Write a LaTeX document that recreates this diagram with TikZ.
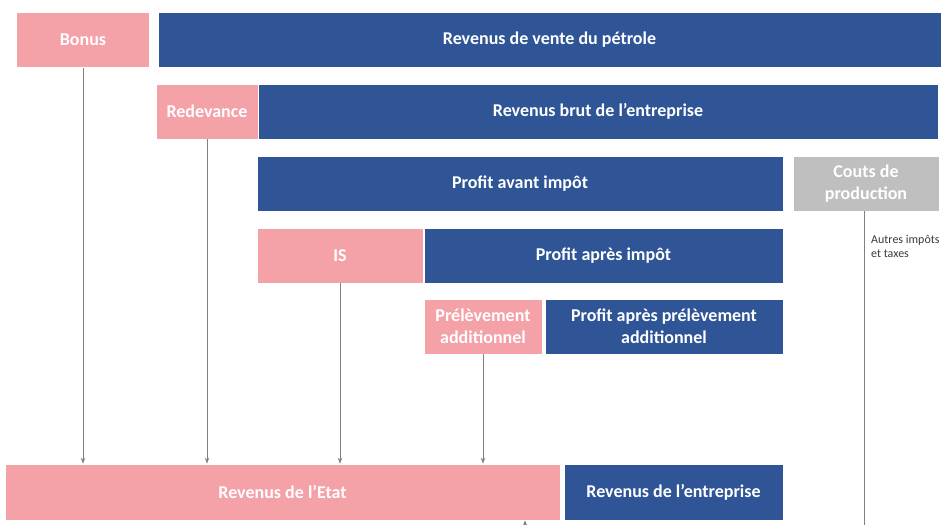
\documentclass[tikz,border=0pt]{standalone}
\usepackage{fontspec}
\setmainfont{Carlito}
\usetikzlibrary{arrows.meta}
\definecolor{pinkc}{HTML}{F4A1A8}
\definecolor{bluec}{HTML}{2F5597}
\definecolor{grayc}{HTML}{BFBFBF}
\definecolor{linec}{HTML}{808080}
\definecolor{txtc}{HTML}{3A3A3A}
\begin{document}
\begin{tikzpicture}[x=1pt,y=-1pt,
  box/.style={draw=white, line width=0.6pt, text=white, font=\fontsize{18}{22}\selectfont\bfseries, align=center, inner sep=0pt, minimum height=55pt},
  pinkbox/.style={box, fill=pinkc},
  bluebox/.style={box, fill=bluec},
  graybox/.style={box, fill=grayc},
  conn/.style={draw=linec, line width=0.9pt, -{Stealth[length=6pt,width=4.5pt]}},
  plainline/.style={draw=linec, line width=0.9pt}]
\clip (0,0) rectangle (941,524);
\fill[white] (0,0) rectangle (941,524);
% row 1
\node[pinkbox, minimum width=133pt] (bonus) at (83,40) {Bonus};
\node[bluebox, minimum width=783pt] (vente) at (549.5,40) {Revenus de vente du pétrole};
% row 2
\node[pinkbox, minimum width=102pt] (redev) at (207,111.5) {Redevance};
\node[bluebox, minimum width=680pt] (brut) at (598,111.5) {Revenus brut de l’entreprise};
% row 3
\node[bluebox, minimum width=526pt] (pai) at (520,183.5) {Profit avant impôt};
\node[graybox, minimum width=146pt] (couts) at (866,183.5) {Couts de\\production};
% row 4
\node[pinkbox, minimum width=166pt] (is) at (340,255.5) {IS};
\node[bluebox, minimum width=359pt] (papi) at (603.5,255.5) {Profit après impôt};
% row 5
\node[pinkbox, minimum width=118pt] (prel) at (483,326.5) {Prélèvement\\additionnel};
\node[bluebox, minimum width=238pt] (papa) at (664,326.5) {Profit après prélèvement\\additionnel};
% bottom row
\node[pinkbox, minimum width=555pt, minimum height=56pt] (etat) at (282.5,492) {Revenus de l’Etat};
\node[bluebox, minimum width=219pt, minimum height=56pt] (entr) at (673.5,492) {Revenus de l’entreprise};
% label
\node[anchor=north west, align=left, text=txtc, font=\fontsize{12}{14.5}\selectfont, inner sep=0pt] (autres) at (871,235) {Autres impôts\\et taxes};
% connectors
\draw[conn] (bonus.south) -- (bonus.south |- etat.north);
\draw[conn] (redev.south) -- (redev.south |- etat.north);
\draw[conn] (is.south) -- (is.south |- etat.north);
\draw[conn] (prel.south) -- (prel.south |- etat.north);
\coordinate (c1) at (864,545);
\coordinate (c2) at (525,545);
\draw[conn] (couts.south -| c1) -- (c1) -- (c2) -- (c2 |- etat.south);
\end{tikzpicture}
\end{document}
